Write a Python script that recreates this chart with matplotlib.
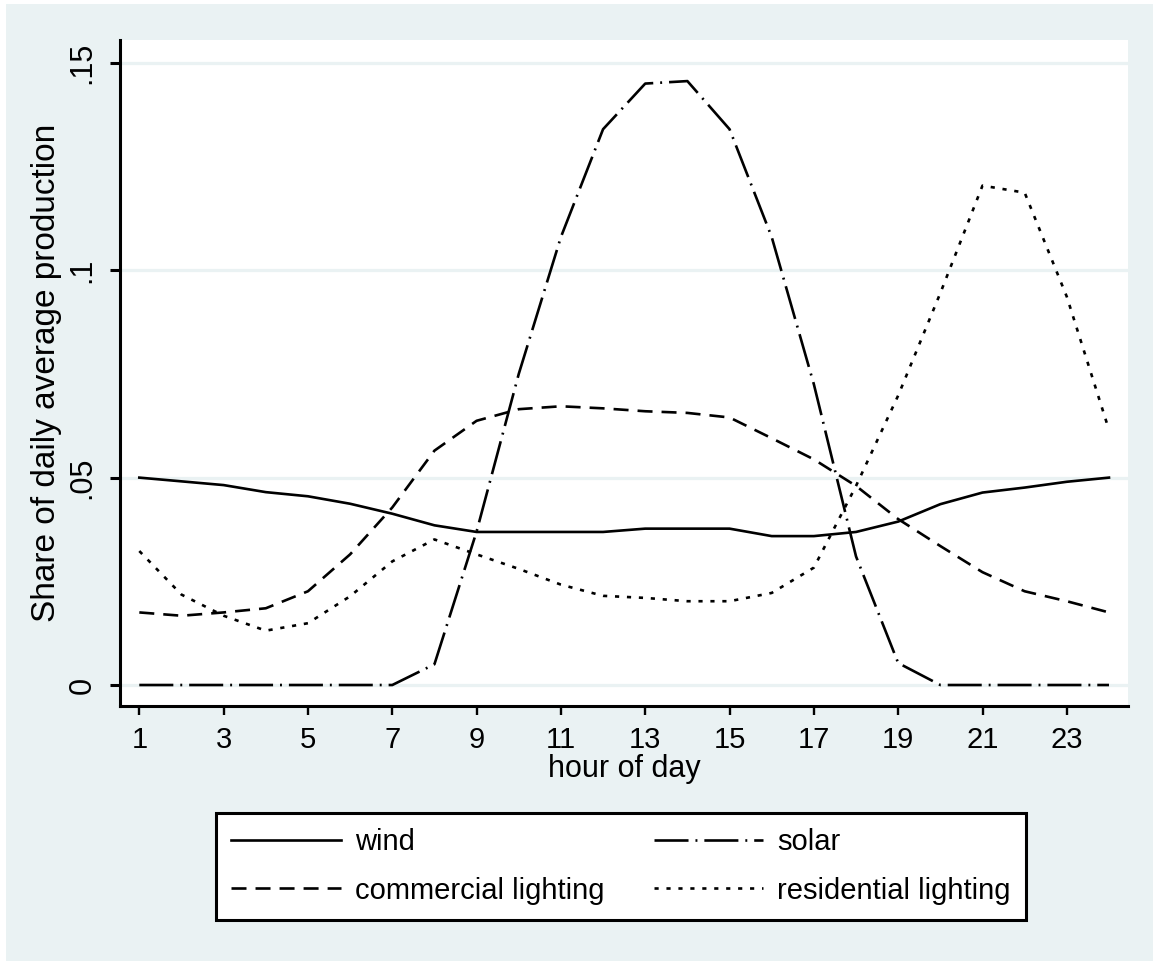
import matplotlib
matplotlib.use("Agg")
import matplotlib.pyplot as plt
from matplotlib.patches import Rectangle

BG = "#EAF2F3"
INK = "#000000"

plt.rcParams["font.family"] = ["Liberation Sans", "DejaVu Sans"]
plt.rcParams["lines.scale_dashes"] = False

# hour of day and share of daily average production
hours = list(range(1, 25))
wind = [0.0500, 0.0491, 0.0482, 0.0465, 0.0455, 0.0437, 0.0413, 0.0385,
        0.0369, 0.0369, 0.0369, 0.0369, 0.0377, 0.0377, 0.0377, 0.0359,
        0.0359, 0.0369, 0.0394, 0.0436, 0.0464, 0.0476, 0.0490, 0.0500]
solar = [0.0, 0.0, 0.0, 0.0, 0.0, 0.0, 0.0, 0.0050,
         0.0370, 0.0750, 0.1080, 0.1340, 0.1450, 0.1456, 0.1340, 0.1080,
         0.0725, 0.0310, 0.0053, 0.0, 0.0, 0.0, 0.0, 0.0]
commercial = [0.0175, 0.0167, 0.0175, 0.0185, 0.0226, 0.0315, 0.0428, 0.0565,
              0.0637, 0.0665, 0.0672, 0.0667, 0.0660, 0.0656, 0.0645, 0.0595,
              0.0544, 0.0480, 0.0400, 0.0335, 0.0272, 0.0226, 0.0202, 0.0175]
residential = [0.0323, 0.0218, 0.0167, 0.0131, 0.0149, 0.0214, 0.0298, 0.0351,
               0.0315, 0.0280, 0.0242, 0.0215, 0.0210, 0.0202, 0.0202, 0.0222,
               0.0283, 0.0480, 0.0698, 0.0945, 0.1204, 0.1187, 0.0936, 0.0615]

xticks = [1, 3, 5, 7, 9, 11, 13, 15, 17, 19, 21, 23]
yticks = [0, 0.05, 0.10, 0.15]
ytick_labels = ["0", ".05", ".1", ".15"]

fig = plt.figure(figsize=(11.53, 9.61), dpi=100, facecolor=BG)
# thin white edge at top/left like the exported graph
fig.patches.append(Rectangle((0, 0.9958), 1, 0.0042, transform=fig.transFigure,
                             facecolor="white", edgecolor="none"))
fig.patches.append(Rectangle((0, 0), 0.005, 1, transform=fig.transFigure,
                             facecolor="white", edgecolor="none"))

ax = fig.add_axes([0.10408, 0.26535, 0.8742, 0.6930])
ax.set_facecolor("white")

lw = 1.9
l_wind, = ax.plot(hours, wind, color=INK, lw=lw, linestyle="-", label="wind")
l_solar, = ax.plot(hours, solar, color=INK, lw=lw,
                   linestyle=(0, (24.5, 5.0, 1.4, 5.0)), label="solar")
l_comm, = ax.plot(hours, commercial, color=INK, lw=lw, linestyle=(0, (10.8, 6.5)),
                  label="commercial lighting")
l_res, = ax.plot(hours, residential, color=INK, lw=lw, linestyle=(0, (3.0, 5.6)),
                 label="residential lighting")

ax.set_xlim(0.542, 24.45)
ax.set_ylim(-0.00506, 0.1555)

ax.set_xticks(xticks)
ax.set_xticklabels([str(h) for h in xticks])
ax.set_yticks(yticks)
ax.set_yticklabels(ytick_labels, rotation=90, va="center")

ax.yaxis.grid(True, color=BG, linewidth=2.3)
ax.xaxis.grid(False)
ax.set_axisbelow(True)

for side in ["top", "right"]:
    ax.spines[side].set_visible(False)
for side in ["left", "bottom"]:
    ax.spines[side].set_color(INK)
    ax.spines[side].set_linewidth(2.2)

ax.tick_params(axis="y", length=7.2, width=2.2, pad=9, labelsize=22, colors=INK)
ax.tick_params(axis="x", length=6.5, width=1.7, pad=8, labelsize=21, colors=INK)

ax.set_xlabel("hour of day", fontsize=22, color=INK, labelpad=0)
ax.set_ylabel("Share of daily average production", fontsize=24, color=INK, labelpad=4)

# matplotlib fills legend columns first: order so rows read wind/solar, commercial/residential
leg = ax.legend([l_wind, l_comm, l_solar, l_res],
                ["wind", "commercial lighting", "solar", "residential lighting"],
                loc="lower center", bbox_to_anchor=(0.5386, 0.0427),
                bbox_transform=fig.transFigure, ncol=2, fontsize=21,
                frameon=True, fancybox=False, framealpha=1, borderaxespad=0,
                borderpad=0.53, labelspacing=0.69, handlelength=3.76,
                handletextpad=0.48, columnspacing=1.68)
frame = leg.get_frame()
frame.set_edgecolor(INK)
frame.set_linewidth(2.2)
frame.set_facecolor("white")

fig.savefig("out.png", dpi=100, facecolor=BG)
